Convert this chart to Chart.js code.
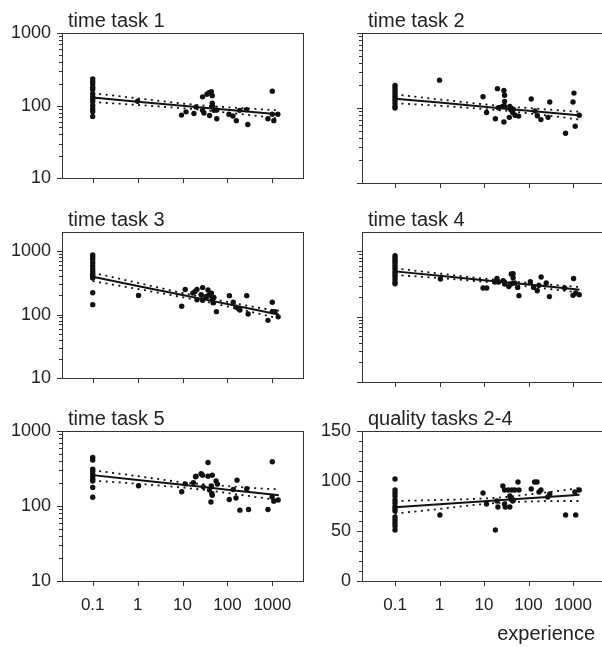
<!DOCTYPE html>
<html>
<head>
<meta charset="utf-8">
<script src="https://cdn.jsdelivr.net/npm/chart.js@4.4.0/dist/chart.umd.min.js"></script>
<style>
    html, body { margin: 0; padding: 0; background: #fff; overflow: hidden; }
    #grade { position: relative; width: 602px; height: 647px; }
    #grade canvas { position: absolute; }
</style>
</head>
<body>
<div id="grade">
    <canvas id="painel1"></canvas>
    <canvas id="painel2"></canvas>
    <canvas id="painel3"></canvas>
    <canvas id="painel4"></canvas>
    <canvas id="painel5"></canvas>
    <canvas id="painel6"></canvas>
</div>
<script>
// titulos dos paineis
const titulos = ['time task 1', 'time task 2', 'time task 3', 'time task 4', 'time task 5', 'quality tasks 2-4'];
const rotuloEixoX = 'experience';

// ticks
const xTicks = [0.1, 1, 10, 100, 1000];
const xTickLabels = ['0.1', '1', '10', '100', '1000'];
const yTicksLog = [10, 100, 1000];
const yTickLabelsLog = ['10', '100', '1000'];
const yMinorLog = [20, 30, 40, 50, 60, 70, 80, 90, 200, 300, 400, 500, 600, 700, 800, 900];
const yTicksQual = [0, 50, 100, 150];
const yTickLabelsQual = ['0', '50', '100', '150'];
const yMinorQual = [10, 20, 30, 40, 60, 70, 80, 90, 110, 120, 130, 140];

// time task 1
const t1X = [0.1, 0.1, 0.1, 0.1, 0.1, 0.1, 0.1, 0.1, 0.1, 0.1, 0.1, 0.1, 0.1,
    1, 9.5, 12, 18, 20, 28, 28, 35, 39, 44, 46, 30, 40, 46, 47, 50, 58, 58, 108, 133, 158, 188, 265, 285, 800, 1000, 1000, 1080, 1330];
const t1Y = [233, 215, 198, 179, 166, 146, 132, 122, 113, 100, 90, 83, 71,
    115, 74, 82, 78, 96, 86, 132, 143, 150, 155, 137, 79, 73, 108, 97, 86, 87, 66, 76, 72, 62, 86, 88, 55, 66, 158, 76, 62, 76];

// time task 2
const t2X = [0.1, 0.1, 0.1, 0.1, 0.1, 0.1, 0.1, 0.1, 0.1, 0.1,
    1, 9.5, 11.4, 18, 20, 21, 26, 28, 29, 29, 29, 28, 37, 38, 40, 44, 46, 50, 60, 115, 140, 158, 190, 275, 300, 680, 1000, 1050, 1120, 1380];
const t2Y = [200, 185, 170, 158, 146, 136, 126, 115, 105, 100,
    235, 141, 87, 72, 181, 101, 105, 171, 148, 122, 105, 65, 75, 105, 95, 87, 96, 80, 78, 132, 91, 79, 70, 75, 120, 46, 120, 158, 57, 80];

// time task 3
const t3X = [0.1, 0.1, 0.1, 0.1, 0.1, 0.1, 0.1, 0.1, 0.1, 0.1, 0.1, 0.1,
    1.05, 9.6, 11.5, 17, 19, 21, 21, 26, 28, 28, 33, 37, 39, 44, 45, 46, 48, 50, 57, 111, 135, 155, 175, 190, 270, 290, 800, 1000, 1000, 1150, 1350];
const t3Y = [860, 800, 730, 650, 580, 520, 470, 430, 400, 375, 220, 143,
    200, 135, 248, 217, 231, 248, 171, 205, 265, 168, 190, 244, 205, 217, 193, 171, 153, 185, 111, 198, 156, 131, 124, 118, 198, 102, 81, 156, 111, 111, 92];

// time task 4
const t4X = [0.1, 0.1, 0.1, 0.1, 0.1, 0.1, 0.1, 0.1, 0.1, 0.1, 0.1, 0.1, 0.1,
    1.05, 9.5, 11.5, 17.5, 19.5, 21, 27, 29, 36, 40, 41, 45, 45, 49, 57, 61, 110, 130, 157, 172, 192, 250, 295, 650, 1030, 1000, 1150, 1380];
const t4Y = [860, 790, 730, 680, 625, 570, 525, 478, 440, 405, 370, 335, 318,
    378, 275, 275, 340, 385, 340, 356, 316, 290, 316, 451, 455, 395, 328, 281, 210, 342, 281, 250, 302, 406, 328, 203, 275, 385, 212, 231, 217];

// time task 5
const t5X = [0.1, 0.1, 0.1, 0.1, 0.1, 0.1, 0.1, 0.1, 0.1, 0.1,
    1.05, 9.6, 11.5, 17.5, 19.5, 20, 26, 28, 29, 37, 37, 40, 44, 45, 46, 46, 43, 56, 60, 110, 135, 155, 164, 190, 270, 295, 800, 1000, 990, 1080, 1350];
const t5Y = [445, 410, 310, 290, 265, 245, 228, 215, 177, 131,
    186, 155, 197, 205, 245, 250, 270, 258, 180, 380, 250, 163, 185, 147, 258, 139, 113, 215, 196, 122, 166, 128, 221, 88, 170, 90, 90, 389, 132, 116, 120];

// quality tasks 2-4
const q6X = [0.1, 0.1, 0.1, 0.1, 0.1, 0.1, 0.1, 0.1, 0.1, 0.1, 0.1, 0.1, 0.1, 0.1,
    1.02, 9.5, 11.4, 18, 19.5, 20.5, 26.5, 29, 29, 30, 35, 38, 38, 40, 42, 44, 46, 49, 58, 61, 115, 137, 155, 172, 190, 270, 300, 680, 1100, 1150, 1380];
const q6Y = [102, 91, 88, 85, 81, 78, 74.5, 72, 70, 64, 61, 58, 55, 51,
    66, 88, 77, 51, 80, 74, 95, 91, 77, 74, 91, 74, 85, 82, 91, 80, 81, 91, 99, 91, 92, 99, 99, 89, 91, 84, 87, 66, 89, 66, 91];

// reta ajustada e intervalo de confianca
const bandaX = [0.1, 1, 10, 30, 100, 1000, 1400];
const fit1 = [129, 113, 99.5, 93.5, 87.5, 77, 75.5];
const sup1 = [148, 126, 107, 100, 95, 87, 86];
const inf1 = [112, 102, 92, 87, 80, 68, 66];
const fit2 = [133, 118, 104, 98, 92, 81, 80];
const sup2 = [152, 130, 112, 105, 100, 90, 89];
const inf2 = [116, 107, 97, 92, 85, 72, 70];
const fit3 = [391, 281, 202, 173, 146, 105, 100];
const sup3 = [455, 315, 218, 185, 158, 118, 115];
const inf3 = [335, 252, 187, 161, 134, 92, 87];
const fit4 = [494, 423, 362, 336, 310, 265, 259];
const sup4 = [550, 458, 383, 355, 330, 290, 284];
const inf4 = [435, 390, 342, 318, 290, 240, 232];
const fit5 = [258, 222, 192, 179, 165, 142, 139];
const sup5 = [300, 250, 207, 195, 184, 168, 167];
const inf5 = [218, 198, 176, 164, 149, 123, 120];
const fit6 = [73.8, 76.8, 79.8, 81.2, 82.8, 85.8, 86.2];
const sup6 = [80, 81, 82.5, 84, 86.5, 92, 93];
const inf6 = [67.5, 72, 77, 78.5, 79.5, 80, 80];

const fonte = "'Liberation Sans', Arial, sans-serif";
const corTexto = '#222';
const corLinha = '#111';

// layout: colunas e linhas da grade (px)
const colunas = [
    { left: 0, width: 310, l: 62, r: 303, xMin: 0.0207, xMax: 4830 },
    { left: 310, width: 300, l: 362, r: 603, xMin: 0.0181, xMax: 4720 }
];
const linhas = [
    { top: 0, height: 200, t: 33, b: 183, yMax: 1000 },
    { top: 200, height: 200, t: 232, b: 382, yMax: 1980 },
    { top: 400, height: 247, t: 431, b: 581, yMax: 1000 }
];

const paineis = [
    { id: 'painel1', titulo: titulos[0], x: t1X, y: t1Y, fit: fit1, sup: sup1, inf: inf1, linha: 0, coluna: 0, qualidade: false },
    { id: 'painel2', titulo: titulos[1], x: t2X, y: t2Y, fit: fit2, sup: sup2, inf: inf2, linha: 0, coluna: 1, qualidade: false },
    { id: 'painel3', titulo: titulos[2], x: t3X, y: t3Y, fit: fit3, sup: sup3, inf: inf3, linha: 1, coluna: 0, qualidade: false },
    { id: 'painel4', titulo: titulos[3], x: t4X, y: t4Y, fit: fit4, sup: sup4, inf: inf4, linha: 1, coluna: 1, qualidade: false },
    { id: 'painel5', titulo: titulos[4], x: t5X, y: t5Y, fit: fit5, sup: sup5, inf: inf5, linha: 2, coluna: 0, qualidade: false },
    { id: 'painel6', titulo: titulos[5], x: q6X, y: q6Y, fit: fit6, sup: sup6, inf: inf6, linha: 2, coluna: 1, qualidade: true, rodape: rotuloEixoX }
];

function pares(xs, ys) {
    return xs.map((x, i) => ({ x: x, y: ys[i] }));
}

// moldura, marcas dos eixos e textos de cada painel
const molduraPlugin = {
    id: 'moldura',
    afterDraw(chart, args, opts) {
        const ctx = chart.ctx;
        const a = chart.chartArea;
        const sx = chart.scales.x;
        const sy = chart.scales.y;
        ctx.save();
        ctx.strokeStyle = '#333';
        ctx.lineWidth = 1;
        ctx.strokeRect(Math.round(a.left) + 0.5, Math.round(a.top) + 0.5, Math.round(a.right - a.left), Math.round(a.bottom - a.top));

        ctx.beginPath();
        xTicks.forEach(v => {
            const px = Math.round(sx.getPixelForValue(v)) + 0.5;
            ctx.moveTo(px, a.bottom);
            ctx.lineTo(px, a.bottom + 5);
        });
        opts.yMaior.forEach(v => {
            const py = Math.round(sy.getPixelForValue(v)) + 0.5;
            ctx.moveTo(a.left - 5, py);
            ctx.lineTo(a.left, py);
        });
        opts.yMenor.forEach(v => {
            if (v > sy.max) return;
            const py = Math.round(sy.getPixelForValue(v)) + 0.5;
            ctx.moveTo(a.left - 3, py);
            ctx.lineTo(a.left, py);
        });
        ctx.stroke();

        ctx.fillStyle = corTexto;
        ctx.font = '20px ' + fonte;
        ctx.textAlign = 'left';
        ctx.textBaseline = 'alphabetic';
        ctx.fillText(opts.titulo, a.left + 6, a.top - 6);
        if (opts.rodape) {
            ctx.textAlign = 'right';
            ctx.fillText(opts.rodape, a.right - 8, a.bottom + 59);
        }
        ctx.restore();
    }
};

function criarPainel(p) {
    const col = colunas[p.coluna];
    const lin = linhas[p.linha];
    const canvas = document.getElementById(p.id);
    canvas.width = col.width;
    canvas.height = lin.height;
    canvas.style.left = col.left + 'px';
    canvas.style.top = lin.top + 'px';

    const larguraY = col.l - col.left;
    const alturaX = lin.top + lin.height - lin.b;
    const mostraX = p.linha === 2;
    const mostraY = p.coluna === 0 || p.qualidade === true;
    const yValores = p.qualidade ? yTicksQual : yTicksLog;
    const yRotulos = p.qualidade ? yTickLabelsQual : yTickLabelsLog;

    const escalaY = {
        type: p.qualidade ? 'linear' : 'logarithmic',
        min: p.qualidade ? 0 : 10,
        max: p.qualidade ? 150 : lin.yMax,
        grid: { display: false, drawTicks: false },
        border: { display: false },
        afterBuildTicks: s => { s.ticks = yValores.map(v => ({ value: v })); },
        afterFit: s => { s.width = larguraY; },
        ticks: {
            display: mostraY,
            padding: 11,
            color: corTexto,
            font: { family: fonte, size: 18 },
            callback: (v, i) => yRotulos[i]
        }
    };

    new Chart(canvas, {
        type: 'scatter',
        data: {
            datasets: [
                {
                    data: pares(p.x, p.y),
                    pointRadius: 2.7,
                    pointHoverRadius: 2.7,
                    backgroundColor: corLinha,
                    borderWidth: 0
                },
                {
                    data: pares(bandaX, p.fit),
                    showLine: true,
                    pointRadius: 0,
                    borderColor: corLinha,
                    borderWidth: 2,
                    fill: false
                },
                {
                    data: pares(bandaX, p.sup),
                    showLine: true,
                    pointRadius: 0,
                    borderColor: corLinha,
                    borderWidth: 1.8,
                    borderDash: [2, 4.5],
                    cubicInterpolationMode: 'monotone',
                    fill: false
                },
                {
                    data: pares(bandaX, p.inf),
                    showLine: true,
                    pointRadius: 0,
                    borderColor: corLinha,
                    borderWidth: 1.8,
                    borderDash: [2, 4.5],
                    cubicInterpolationMode: 'monotone',
                    fill: false
                }
            ]
        },
        options: {
            responsive: false,
            animation: false,
            layout: {
                padding: { left: 0, top: lin.t - lin.top, right: col.left + col.width - col.r, bottom: 0 }
            },
            plugins: {
                legend: { display: false },
                tooltip: { enabled: false },
                moldura: {
                    titulo: p.titulo,
                    rodape: p.rodape,
                    yMaior: yValores,
                    yMenor: p.qualidade ? yMinorQual : yMinorLog
                }
            },
            scales: {
                x: {
                    type: 'logarithmic',
                    min: col.xMin,
                    max: col.xMax,
                    grid: { display: false, drawTicks: false },
                    border: { display: false },
                    afterBuildTicks: s => { s.ticks = xTicks.map(v => ({ value: v })); },
                    afterFit: s => { s.height = alturaX; },
                    ticks: {
                        display: mostraX,
                        autoSkip: false,
                        maxRotation: 0,
                        minRotation: 0,
                        padding: 14,
                        color: corTexto,
                        font: { family: fonte, size: 17 },
                        callback: (v, i) => xTickLabels[i]
                    }
                },
                y: escalaY
            }
        },
        plugins: [molduraPlugin]
    });
}

paineis.forEach(criarPainel);
</script>
</body>
</html>
